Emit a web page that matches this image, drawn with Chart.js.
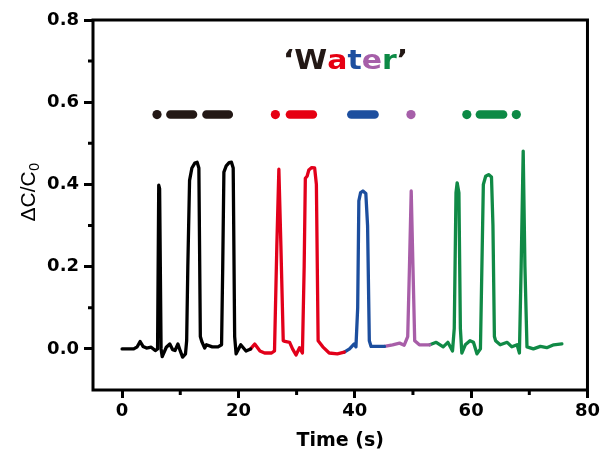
<!DOCTYPE html>
<html>
<head>
<meta charset="utf-8">
<script src="https://cdn.jsdelivr.net/npm/chart.js@4.4.1/dist/chart.umd.min.js"></script>
<style>
  html, body { margin: 0; padding: 0; background: #fff; }
  #wrap { width: 603px; height: 456px; }
</style>
</head>
<body>
<div id="wrap"><canvas id="waterChart" width="603" height="456"></canvas></div>
<script>
// signal traces, one per letter of 'Water'
const blackTime = [0, 2.0, 2.6, 3.1, 3.6, 4.2, 5.0, 5.7, 6.1, 6.3, 6.45, 6.7, 6.9, 7.6, 8.2, 8.7, 9.1, 9.6, 10.0, 10.4, 10.9, 11.1, 11.3, 11.6, 12.0, 12.5, 12.9, 13.2, 13.45, 13.7, 14.2, 14.5, 15.5, 16.5, 17.1, 17.3, 17.5, 17.9, 18.4, 18.8, 19.1, 19.35, 19.6, 20.4, 21.3, 22.1];
const blackSignal = [0, 0, 0.005, 0.018, 0.006, 0.002, 0.004, -0.004, 0.0, 0.398, 0.39, 0.0, -0.019, 0.004, 0.012, -0.002, -0.004, 0.012, -0.005, -0.02, -0.012, 0.02, 0.2, 0.41, 0.44, 0.452, 0.454, 0.44, 0.03, 0.018, 0.002, 0.01, 0.005, 0.005, 0.01, 0.2, 0.43, 0.445, 0.453, 0.454, 0.44, 0.03, -0.012, 0.01, -0.005, 0.0];

const redTime = [22.1, 22.8, 23.7, 24.5, 25.7, 26.2, 26.6, 26.95, 27.3, 27.7, 28.0, 28.8, 29.3, 29.9, 30.5, 31.0, 31.3, 31.5, 31.8, 32.1, 32.6, 33.1, 33.4, 33.7, 34.5, 35.6, 37.0, 38.2];
const redSignal = [0.0, 0.012, -0.005, -0.01, -0.01, -0.005, 0.25, 0.437, 0.25, 0.02, 0.018, 0.016, 0.0, -0.015, 0.003, -0.01, 0.2, 0.415, 0.42, 0.435, 0.441, 0.44, 0.4, 0.02, 0.005, -0.01, -0.012, -0.008];

const blueTime = [38.2, 39.1, 39.9, 40.2, 40.5, 40.7, 41.0, 41.4, 41.9, 42.2, 42.5, 42.8, 44.0, 45.1];
const blueSignal = [-0.008, 0.0, 0.012, 0.005, 0.1, 0.36, 0.38, 0.384, 0.378, 0.3, 0.02, 0.006, 0.006, 0.006];

const purpleTime = [45.1, 46.5, 47.7, 48.5, 49.1, 49.4, 49.7, 50.0, 50.3, 51.1, 52.9];
const purpleSignal = [0.006, 0.01, 0.014, 0.009, 0.03, 0.2, 0.384, 0.2, 0.02, 0.01, 0.01];

const greenTime = [52.9, 54.0, 55.2, 56.0, 56.8, 57.1, 57.4, 57.6, 57.9, 58.15, 58.4, 59.0, 59.8, 60.4, 61.0, 61.6, 61.85, 62.1, 62.5, 63.0, 63.5, 63.75, 64.0, 64.2, 65.0, 66.2, 67.0, 67.9, 68.3, 68.6, 68.95, 69.25, 69.6, 70.7, 71.9, 73.0, 74.2, 75.6];
const greenSignal = [0.01, 0.016, 0.005, 0.016, -0.005, 0.05, 0.38, 0.404, 0.38, 0.05, -0.01, 0.01, 0.02, 0.016, -0.012, 0.0, 0.2, 0.4, 0.42, 0.424, 0.418, 0.3, 0.03, 0.02, 0.01, 0.016, 0.005, 0.01, -0.01, 0.2, 0.481, 0.2, 0.005, 0.0, 0.006, 0.003, 0.01, 0.012];

// morse code row: W = .--, a = .-, t = -, e = ., r = .-.
const morseLevel = 0.57;
const morseDots = [[6.0], [26.35], [], [49.66], [59.26, 67.77]];
const morseDashes = [[[8.3, 12.2], [14.5, 18.35]], [[28.85, 32.8]], [[39.4, 43.4]], [], [[61.5, 65.5]]];

const titleChars = ['\u2018', 'W', 'a', 't', 'e', 'r', '\u2019'];

const xMajor = [0, 20, 40, 60, 80];
const xMinor = [10, 30, 50, 70];
const yMajor = [0, 0.2, 0.4, 0.6, 0.8];
const yMinor = [0.1, 0.3, 0.5, 0.7];

// warna
const traceColors = ['#000000', '#e2001a', '#1c4e9e', '#a85ea8', '#108a46'];
const morseColors = ['#231815', '#e60012', '#1d4f9f', '#a65fa9', '#0c8a45'];
const titleColors = ['#231815', '#231815', '#e60012', '#1d4f9f', '#a65fa9', '#0c8a45', '#231815'];

const toPoints = (xs, ys) => xs.map((x, i) => ({ x: x, y: ys[i] }));

const traces = [
  toPoints(blackTime, blackSignal),
  toPoints(redTime, redSignal),
  toPoints(blueTime, blueSignal),
  toPoints(purpleTime, purpleSignal),
  toPoints(greenTime, greenSignal),
];

const datasets = [];

traces.forEach((pts, i) => {
  datasets.push({
    type: 'line',
    data: pts,
    borderColor: traceColors[i],
    borderWidth: 3.3,
    pointRadius: 0,
    tension: 0,
    borderJoinStyle: 'round',
    borderCapStyle: 'round',
  });
});

// dashes: segments split by null so each gets its own round caps
morseDashes.forEach((dashes, i) => {
  if (dashes.length === 0) return;
  const pts = [];
  dashes.forEach(([a, b]) => {
    pts.push({ x: a, y: morseLevel }, { x: b, y: morseLevel }, { x: b + 0.1, y: null });
  });
  datasets.push({
    type: 'line',
    data: pts,
    borderColor: morseColors[i],
    borderWidth: 8.5,
    borderCapStyle: 'round',
    pointRadius: 0,
    spanGaps: false,
  });
});

morseDots.forEach((dots, i) => {
  if (dots.length === 0) return;
  datasets.push({
    type: 'scatter',
    data: dots.map((x) => ({ x: x, y: morseLevel })),
    backgroundColor: morseColors[i],
    borderWidth: 0,
    pointRadius: 4.6,
    showLine: false,
  });
});

// frame, minor ticks, title and y label
const decorPlugin = {
  id: 'decor',
  afterDraw(chart) {
    const { ctx, chartArea, scales } = chart;
    ctx.save();
    ctx.strokeStyle = '#000';
    ctx.lineWidth = 3;
    ctx.strokeRect(chartArea.left, chartArea.top, chartArea.right - chartArea.left, chartArea.bottom - chartArea.top);

    ctx.lineWidth = 3;
    ctx.beginPath();
    xMinor.forEach((v) => {
      const px = scales.x.getPixelForValue(v);
      ctx.moveTo(px, chartArea.bottom);
      ctx.lineTo(px, chartArea.bottom + 5);
    });
    yMinor.forEach((v) => {
      const py = scales.y.getPixelForValue(v);
      ctx.moveTo(chartArea.left, py);
      ctx.lineTo(chartArea.left - 5, py);
    });
    ctx.stroke();

    // judul 'Water' berwarna
    ctx.font = 'bold 26px "DejaVu Sans"';
    ctx.textBaseline = 'alphabetic';
    const widths = titleChars.map((c) => ctx.measureText(c).width);
    const total = widths.reduce((a, b) => a + b, 0);
    const sx = 125 / total;
    ctx.translate(345.5 - 62.5, 69);
    ctx.scale(sx, 1);
    let cx = 0;
    titleChars.forEach((c, i) => {
      ctx.fillStyle = titleColors[i];
      ctx.fillText(c, cx, 0);
      cx += widths[i];
    });
    ctx.restore();

    // y axis label with subscript
    ctx.save();
    ctx.fillStyle = '#000';
    ctx.translate(35, 192.5);
    ctx.rotate(-Math.PI / 2);
    ctx.textBaseline = 'alphabetic';
    const mainFont = '21px "Liberation Sans"';
    const subFont = '14px "Liberation Sans"';
    ctx.font = mainFont;
    const w1 = ctx.measureText('\u0394C/C').width;
    ctx.font = subFont;
    const w2 = ctx.measureText('0').width;
    const start = -(w1 + w2) / 2;
    ctx.font = mainFont;
    ctx.fillText('\u0394C/C', start, 0);
    ctx.font = subFont;
    ctx.fillText('0', start + w1 + 0.5, 4);
    ctx.restore();
  },
};

const tickFont = { family: 'DejaVu Sans', size: 18, weight: 'bold' };

new Chart(document.getElementById('waterChart').getContext('2d'), {
  data: { datasets: datasets },
  options: {
    responsive: false,
    animation: false,
    layout: { padding: { left: 0, right: 14, top: 20, bottom: 0 } },
    plugins: {
      legend: { display: false },
      tooltip: { enabled: false },
    },
    scales: {
      x: {
        type: 'linear',
        min: -5,
        max: 80,
        afterBuildTicks: (scale) => { scale.ticks = xMajor.map((v) => ({ value: v })); },
        afterFit: (scale) => { scale.height = 66; },
        grid: { display: true, drawOnChartArea: false, drawTicks: true, tickLength: 8, tickWidth: 3, tickColor: '#000' },
        border: { display: false },
        ticks: { color: '#000', font: tickFont, padding: 3, maxRotation: 0, callback: (v) => String(v) },
        title: {
          display: true,
          text: 'Time (s)',
          color: '#000',
          font: { family: 'DejaVu Sans', size: 19, weight: 'bold' },
          padding: { top: 0, bottom: 4 },
        },
      },
      y: {
        type: 'linear',
        min: -0.1,
        max: 0.8,
        afterBuildTicks: (scale) => { scale.ticks = yMajor.map((v) => ({ value: v })); },
        afterFit: (scale) => { scale.width = 93; },
        grid: { display: true, drawOnChartArea: false, drawTicks: true, tickLength: 9, tickWidth: 3, tickColor: '#000' },
        border: { display: false },
        ticks: { color: '#000', font: tickFont, padding: 5, callback: (v) => v.toFixed(1) },
      },
    },
  },
  plugins: [decorPlugin],
});
</script>
</body>
</html>
